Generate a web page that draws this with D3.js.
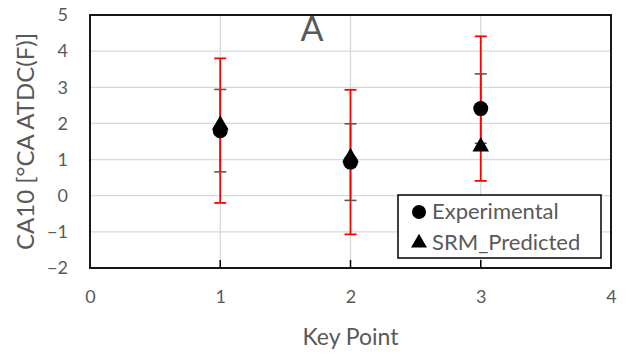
<!DOCTYPE html>
<html>
<head>
<meta charset="utf-8">
<script src="https://cdn.jsdelivr.net/npm/d3@7"></script>
<style>
  html, body { margin: 0; padding: 0; background: #fff; }
  svg { display: block; font-family: Lato, "Open Sans", sans-serif; }
</style>
</head>
<body>
<svg id="chart" width="634" height="358"></svg>
<script>
// Key points and measured / predicted CA10
const keyPoints = [1, 2, 3];
const experimental = [1.8, 0.93, 2.41];
const srmPredicted = [2.0, 1.1, 1.4];
// Error bar half-widths around the experimental values
const errWide = [2.0, 2.0, 2.0];     // red bars
const errNarrow = [1.14, 1.06, 0.96]; // grey bars
const xTicks = [0, 1, 2, 3, 4];
const yTicks = [-2, -1, 0, 1, 2, 3, 4, 5];

const svg = d3.select("#chart");
const margin = { left: 90, right: 23, top: 15, bottom: 90 };
const W = 634, H = 358;

const x = d3.scaleLinear().domain([0, 4]).range([margin.left, W - margin.right]);
const y = d3.scaleLinear().domain([-2, 5]).range([H - margin.bottom, margin.top]);

const textCol = "#595959";

// Grid lines
const grid = svg.append("g");
grid.selectAll(".hg").data(yTicks).join("line")
  .attr("x1", x(0)).attr("x2", x(4))
  .attr("y1", d => y(d)).attr("y2", d => y(d))
  .attr("stroke", "#d9d9d9").attr("stroke-width", 1.3);
grid.selectAll(".vg").data(xTicks.slice(1, -1)).join("line")
  .attr("x1", d => x(d)).attr("x2", d => x(d))
  .attr("y1", y(-2)).attr("y2", y(5))
  .attr("stroke", "#d9d9d9").attr("stroke-width", 1.3);

// Axes (labels only, no domain lines)
const xAxis = svg.append("g")
  .attr("transform", `translate(0,${y(-2)})`)
  .call(d3.axisBottom(x).tickValues(xTicks).tickFormat(d3.format("d")).tickSize(0).tickPadding(22));
const yAxis = svg.append("g")
  .attr("transform", `translate(${x(0)},0)`)
  .call(d3.axisLeft(y).tickValues(yTicks).tickFormat(d3.format("d")).tickSize(0).tickPadding(22));
[xAxis, yAxis].forEach(a => {
  a.select(".domain").remove();
  a.selectAll("text").attr("fill", textCol).style("font-size", "18px")
    .style("font-family", "Lato, 'Open Sans', sans-serif");
});

// Inward tick marks on the bottom axis
svg.append("g").selectAll("line").data(xTicks.slice(1, -1)).join("line")
  .attr("x1", d => x(d)).attr("x2", d => x(d))
  .attr("y1", y(-2)).attr("y2", y(-2) - 8)
  .attr("stroke", "#000").attr("stroke-width", 1.5);

// Plot frame
svg.append("rect")
  .attr("x", x(0)).attr("y", y(5))
  .attr("width", x(4) - x(0)).attr("height", y(-2) - y(5))
  .attr("fill", "none").attr("stroke", "#000").attr("stroke-width", 1.8);

const rows = keyPoints.map((k, i) => ({
  k, exp: experimental[i], pred: srmPredicted[i], ew: errWide[i], en: errNarrow[i]
}));
const cap = 6;

// Grey error bar stems
const gBars = svg.append("g").attr("stroke", textCol).attr("stroke-width", 1.6);
rows.forEach(r => {
  gBars.append("line").attr("x1", x(r.k)).attr("x2", x(r.k))
    .attr("y1", y(r.exp + r.en)).attr("y2", y(r.exp - r.en));
});

// Red error bars
const rBars = svg.append("g").attr("stroke", "#ff0000").attr("stroke-width", 1.8);
rows.forEach(r => {
  rBars.append("line").attr("x1", x(r.k)).attr("x2", x(r.k))
    .attr("y1", y(r.exp + r.ew)).attr("y2", y(r.exp - r.ew));
  [r.exp + r.ew, r.exp - r.ew].forEach(v =>
    rBars.append("line").attr("x1", x(r.k) - cap).attr("x2", x(r.k) + cap)
      .attr("y1", y(v)).attr("y2", y(v)));
});

// Grey caps sit above the red stems
rows.forEach(r => {
  [r.exp + r.en, r.exp - r.en].forEach(v =>
    svg.append("line").attr("x1", x(r.k) - cap).attr("x2", x(r.k) + cap)
      .attr("y1", y(v)).attr("y2", y(v))
      .attr("stroke", textCol).attr("stroke-width", 1.6));
});

// Markers
const tri = d3.symbol().type(d3.symbolTriangle).size(120);
svg.append("g").selectAll("path").data(rows).join("path")
  .attr("d", tri)
  .attr("transform", d => `translate(${x(d.k)},${y(d.pred) + 1.5})`)
  .attr("fill", "#000");
svg.append("g").selectAll("circle").data(rows).join("circle")
  .attr("cx", d => x(d.k)).attr("cy", d => y(d.exp))
  .attr("r", 7.5).attr("fill", "#000");

// Panel letter
svg.append("text").attr("x", 312).attr("y", 41)
  .attr("text-anchor", "middle").attr("fill", textCol)
  .style("font-size", "34px").text("A");

// Axis titles
svg.append("text").attr("x", (x(0) + x(4)) / 2).attr("y", 345)
  .attr("text-anchor", "middle").attr("fill", textCol)
  .style("font-size", "23px").text("Key Point");
svg.append("text")
  .attr("transform", `translate(34,${(y(-2) + y(5)) / 2}) rotate(-90)`)
  .attr("text-anchor", "middle").attr("fill", textCol)
  .style("font-size", "24px").text("CA10 [°CA ATDC(F)]");

// Legend
const lg = svg.append("g");
lg.append("rect").attr("x", 398).attr("y", 195).attr("width", 203).attr("height", 63)
  .attr("fill", "#fff").attr("stroke", "#000").attr("stroke-width", 1.5);
lg.append("circle").attr("cx", 419).attr("cy", 212).attr("r", 7).attr("fill", "#000");
lg.append("path").attr("d", d3.symbol().type(d3.symbolTriangle).size(110))
  .attr("transform", "translate(419,243)").attr("fill", "#000");
lg.append("text").attr("x", 432).attr("y", 219).attr("fill", textCol)
  .style("font-size", "22px").text("Experimental");
lg.append("text").attr("x", 432).attr("y", 250).attr("fill", textCol)
  .style("font-size", "22px").text("SRM_Predicted");
</script>
</body>
</html>
